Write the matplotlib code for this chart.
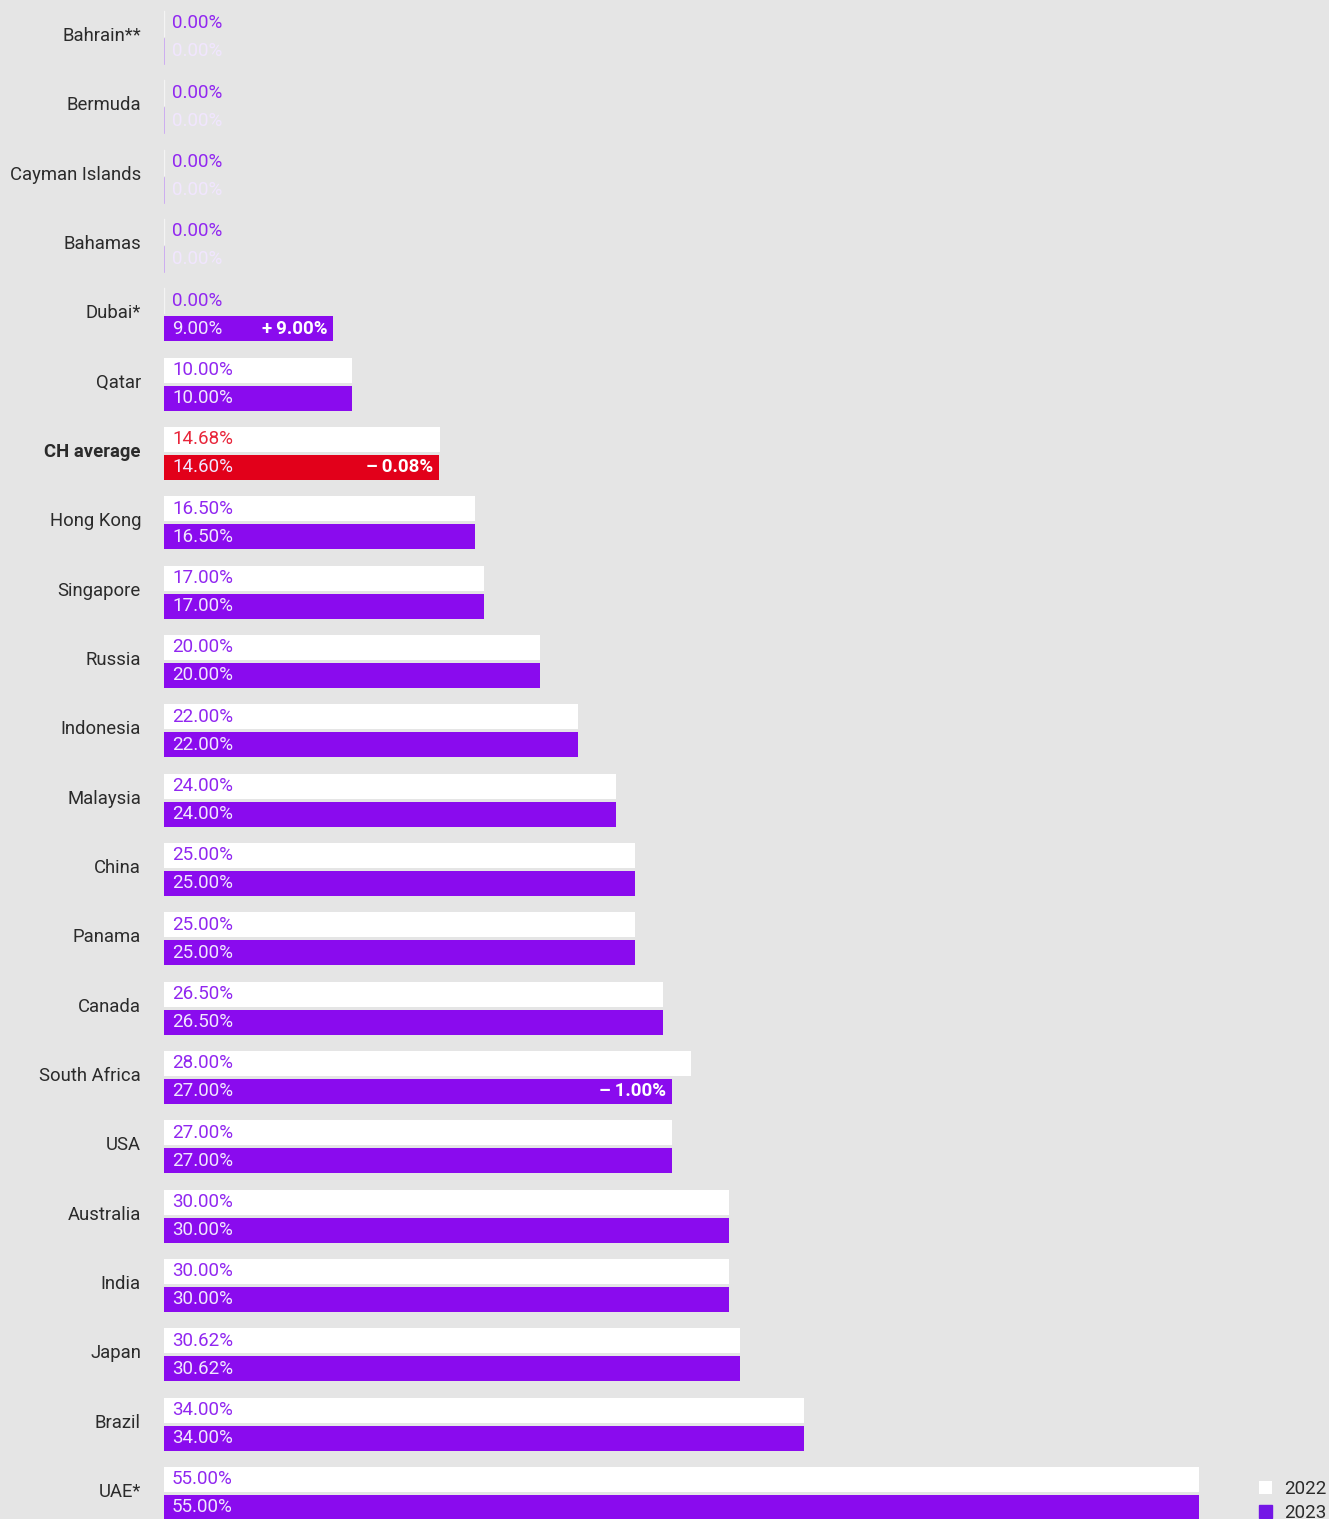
import matplotlib
matplotlib.use("Agg")
import matplotlib.pyplot as plt
import numpy as np

countries = ["Bahrain**", "Bermuda", "Cayman Islands", "Bahamas", "Dubai*", "Qatar",
             "CH average", "Hong Kong", "Singapore", "Russia", "Indonesia", "Malaysia",
             "China", "Panama", "Canada", "South Africa", "USA", "Australia", "India",
             "Japan", "Brazil", "UAE*"]
v2022 = [0.00, 0.00, 0.00, 0.00, 0.00, 10.00, 14.68, 16.50, 17.00, 20.00, 22.00, 24.00,
         25.00, 25.00, 26.50, 28.00, 27.00, 30.00, 30.00, 30.62, 34.00, 55.00]
v2023 = [0.00, 0.00, 0.00, 0.00, 9.00, 10.00, 14.60, 16.50, 17.00, 20.00, 22.00, 24.00,
         25.00, 25.00, 26.50, 27.00, 27.00, 30.00, 30.00, 30.62, 34.00, 55.00]
series_labels = ["2022", "2023"]
highlight = "CH average"

BG = "#e5e5e5"
PURPLE = "#8a0bee"
RED = "#e2001a"
TXT22 = "#9127f0"
TXT23 = "#f1e6ff"
FAM = ["Roboto", "DejaVu Sans"]

W, H = 1329, 1519
fig = plt.figure(figsize=(W / 100, H / 100), dpi=100, facecolor=BG)
px_per_unit = 18.82
x_max = (W - 164) / px_per_unit
ax = fig.add_axes([164 / W, 0, 1 - 164 / W, 1])
ax.set_facecolor(BG)
for s in ax.spines.values():
    s.set_visible(False)

row = 69.33
top_c = 37.5
ax.set_xlim(0, x_max)
ax.set_ylim((H - top_c) / row, -top_c / row)
ax.set_xticks([])
ax.set_yticks([])

y = np.arange(len(countries))
off = 14 / row
bh = 25 / row
pad = 8 / px_per_unit

c23 = [RED if c == highlight else PURPLE for c in countries]
b22 = ax.barh(y - off, v2022, height=bh, color="white", edgecolor="none", label=series_labels[0])
b23 = ax.barh(y + off, v2023, height=bh, color=c23, edgecolor="none", label=series_labels[1])

for i, c in enumerate(countries):
    if v2022[i] == 0:
        ax.plot([0, 0], [i - off - bh / 2, i - off + bh / 2], color="#f4f4f4", lw=1)
    if v2023[i] == 0:
        ax.plot([0, 0], [i + off - bh / 2, i + off + bh / 2], color="#c9a3f3", lw=1.2)
    t22 = "#e8253a" if c == highlight else TXT22
    ax.text(pad, i - off, f"{v2022[i]:.2f}%", color=t22, fontsize=13.5, va="center",
            ha="left", family=FAM)
    ax.text(pad, i + off, f"{v2023[i]:.2f}%", color=TXT23, fontsize=13.5, va="center",
            ha="left", family=FAM)
    d = round(v2023[i] - v2022[i], 2)
    if d != 0:
        sign = "+" if d > 0 else "\u2013"
        ax.text(v2023[i] - 6 / px_per_unit, i + off, f"{sign}\u2009{abs(d):.2f}%",
                color="white", fontsize=13.5, fontweight="bold", va="center", ha="right",
                family=FAM)
    fig.text(141 / W, 1 - (top_c - 1.5 + row * i) / H, c, ha="right", va="center",
             fontsize=13.3, color="#2b2b2b", family=FAM,
             fontweight="bold" if c == highlight else "normal")

leg = fig.legend(handles=[b22, b23], labels=series_labels, loc="upper left",
                 bbox_to_anchor=(1259 / W, 1 - 1480 / H), frameon=False,
                 borderpad=0, borderaxespad=0,
                 handlelength=0.7, handleheight=0.7, handletextpad=0.65,
                 labelspacing=0.3, prop={"family": FAM, "size": 13.5})
for t in leg.get_texts():
    t.set_color("#2b2b2b")
leg.legend_handles[1].set_color("#7416e6")

fig.savefig("out.png", dpi=100, facecolor=BG)
